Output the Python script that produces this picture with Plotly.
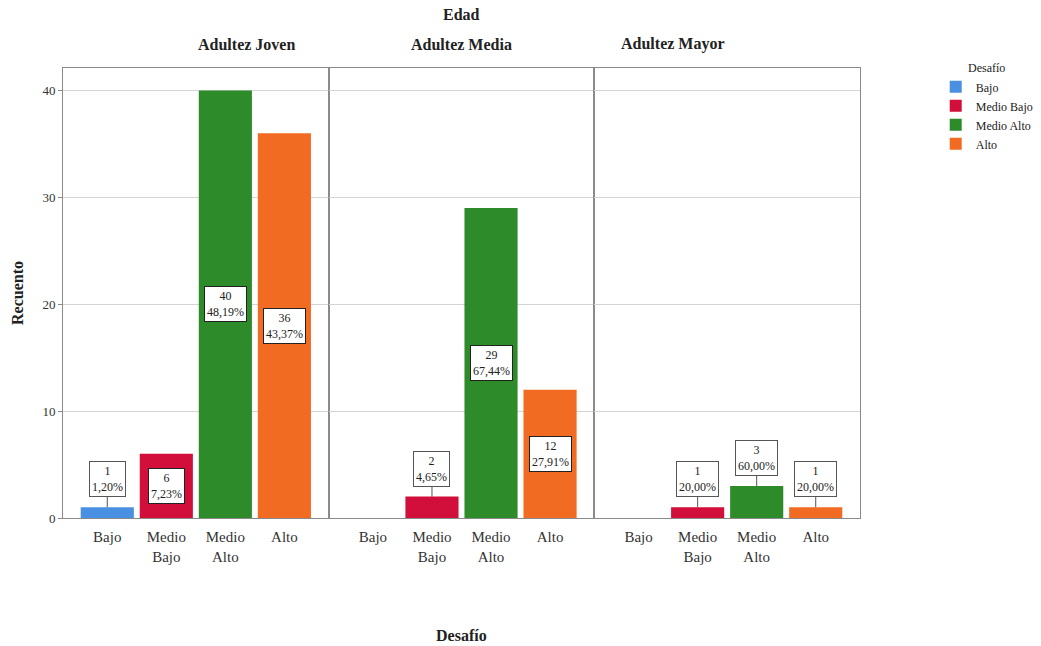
import plotly.graph_objects as go
from plotly.subplots import make_subplots

# Recuento de Desafío por grupo de Edad
edades = ["Adultez Joven", "Adultez Media", "Adultez Mayor"]
desafios = ["Bajo", "Medio Bajo", "Medio Alto", "Alto"]
tick_labels = ["Bajo", "Medio<br>Bajo", "Medio<br>Alto", "Alto"]
joven = [1, 6, 40, 36]
media = [0, 2, 29, 12]
mayor = [0, 1, 3, 1]
conteos = [joven, media, mayor]

colores = ["#4a90e2", "#d10f3a", "#2e8b2a", "#f26b22"]
FONT = "Liberation Serif"
GRID = "#d4d4d4"
LINE = "#8a8a8a"

fig = make_subplots(rows=1, cols=3, shared_yaxes=True, horizontal_spacing=0)

for col, (edad, valores) in enumerate(zip(edades, conteos), start=1):
    total = sum(valores)
    for cat, val, color in zip(desafios, valores, colores):
        fig.add_trace(
            go.Bar(
                x=[cat], y=[val], name=cat, width=0.9,
                marker=dict(color=color, line=dict(width=0)),
                legendgroup=cat, showlegend=(col == 1),
                hoverinfo="skip",
            ),
            row=1, col=col,
        )
        if val == 0:
            continue
        pct = f"{val / total * 100:.2f}".replace(".", ",")
        texto = f"{val}<br>{pct}%"
        ax_ref = "x" if col == 1 else f"x{col}"
        ay_ref = "y" if col == 1 else f"y{col}"
        if val >= 5:
            # label sits in the middle of the bar
            fig.add_annotation(
                x=cat, y=val / 2, xref=ax_ref, yref=ay_ref, text=texto,
                showarrow=False, bgcolor="white", bordercolor="#222",
                borderwidth=1, borderpad=2,
                font=dict(family=FONT, size=12, color="#222"),
            )
        else:
            # short bars get the label above with a leader line
            fig.add_annotation(
                x=cat, y=val, xref=ax_ref, yref=ay_ref, text=texto,
                showarrow=True, arrowhead=0, arrowwidth=1, arrowcolor="#555",
                ax=0, ay=-28, standoff=0,
                bgcolor="white", bordercolor="#555",
                borderwidth=1, borderpad=2,
                font=dict(family=FONT, size=12, color="#222"),
            )

for col in range(1, 4):
    fig.update_xaxes(
        type="category", categoryorder="array", categoryarray=desafios,
        tickvals=desafios, ticktext=tick_labels, range=[-0.75, 3.75],
        showline=True, linecolor=LINE, mirror=True, showgrid=False,
        ticks="", ticklabelstandoff=5,
        tickfont=dict(family=FONT, size=15, color="#333"),
        row=1, col=col,
    )
    fig.update_yaxes(
        range=[0, 42.1], tickvals=[0, 10, 20, 30, 40],
        showline=True, linecolor=LINE, mirror=True,
        showgrid=True, gridcolor=GRID, zeroline=False,
        row=1, col=col,
    )

fig.update_yaxes(
    ticks="outside", ticklen=4, tickcolor=LINE,
    tickfont=dict(family=FONT, size=13, color="#333"),
    title=dict(text="<b>Recuento</b>", font=dict(family=FONT, size=16, color="#222"), standoff=14),
    row=1, col=1,
)

# Encabezados de panel
fig.add_annotation(x=0.5, y=1.118, xref="paper", yref="paper", text="<b>Edad</b>",
                   yanchor="middle", showarrow=False,
                   font=dict(family=FONT, size=16, color="#222"))
for col, edad in enumerate(edades):
    fig.add_annotation(x=(col + 0.5) / 3, y=1.053, xref="paper", yref="paper",
                       text=f"<b>{edad}</b>", yanchor="middle", showarrow=False,
                       font=dict(family=FONT, size=16, color="#222"))
fig.add_annotation(x=0.5, y=-0.26, xref="paper", yref="paper", text="<b>Desafío</b>",
                   yanchor="middle", showarrow=False,
                   font=dict(family=FONT, size=16, color="#222"))

fig.update_layout(
    width=1041, height=646,
    margin=dict(l=63, r=181, t=68, b=128, autoexpand=False),
    barmode="overlay",
    paper_bgcolor="white", plot_bgcolor="white",
    font=dict(family=FONT, color="#222"),
    legend=dict(
        x=1.095, y=1.025, xanchor="left", yanchor="top",
        title=dict(text="Desafío", side="top center", font=dict(family=FONT, size=12)),
        font=dict(family=FONT, size=12, color="#222"),
        tracegroupgap=0, itemwidth=30,
    ),
)

fig.write_html("out.html")
